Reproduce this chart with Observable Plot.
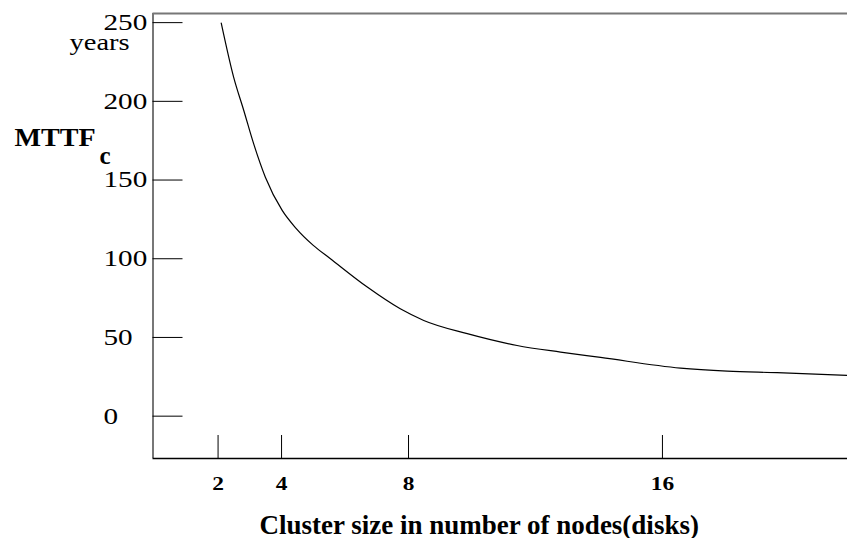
<!DOCTYPE html>
<html>
<head>
<meta charset="utf-8">
<script src="https://cdn.jsdelivr.net/npm/d3@7"></script>
<script src="https://cdn.jsdelivr.net/npm/@observablehq/plot@0.6"></script>
<style>
  html, body { margin: 0; padding: 0; background: #fff; }
  #chart svg { display: block; }
  #chart svg, #chart svg text { font-family: "Liberation Serif", "Times New Roman", serif !important; }
</style>
</head>
<body>
<div id="chart"></div>
<script>
// ---- data ----
const clusterSize = [2.10, 2.49, 2.81, 3.12, 3.49, 4.02, 4.45, 5.00, 5.54, 6.70, 7.74, 8.48, 9.85, 11.42, 12.79, 14.05, 16.57, 18.04, 19.61, 21.82];
const mttfYears   = [249.7, 215.4, 194.2, 173.1, 151.8, 130.7, 119.5, 108.5, 100.0, 82.0, 68.2, 60.8, 52.4, 44.9, 40.7, 37.3, 30.5, 28.6, 27.6, 25.9];
const xTicks = [2, 4, 8, 16];
const yTicks = [0, 50, 100, 150, 200, 250];
const xTitle = "Cluster size in number of nodes(disks)";
const yTitle = "MTTF";
const yTitleSub = "c";
const yUnit = "years";
const xDomain = [-0.05, 21.83];
const yDomain = [-26.9, 255.8];

const data = clusterSize.map((x, i) => ({x, y: mttfYears[i]}));

const FONT = "Liberation Serif";
const W = 847, H = 538;
const mL = 152.5, mR = 0, mT = 13, mB = 80;
const plotW = W - mL - mR, plotH = H - mT - mB;

const chart = Plot.plot({
  width: W,
  height: H,
  marginLeft: mL,
  marginRight: mR,
  marginTop: mT,
  marginBottom: mB,
  style: {fontFamily: FONT, background: "#fff", color: "#000"},
  x: {domain: xDomain, axis: null},
  y: {domain: yDomain, axis: null},
  marks: [
    // frame lines
    Plot.ruleX([xDomain[0]], {stroke: "#777", strokeWidth: 2}),
    Plot.ruleY([yDomain[1]], {stroke: "#777", strokeWidth: 2}),
    Plot.ruleY([yDomain[0]], {stroke: "#000", strokeWidth: 1.5}),
    // inward y ticks
    Plot.tickY(yTicks, {y: d => d, stroke: "#000", strokeWidth: 1, insetRight: plotW - 30}),
    // inward x ticks
    Plot.tickX(xTicks, {x: d => d, stroke: "#000", strokeWidth: 1, insetTop: plotH - 23}),
    // y tick labels
    Plot.text(yTicks, {y: d => d, text: d => String(d), frameAnchor: "left", textAnchor: "start", dx: -49.5, fontSize: 23, fontFamily: FONT, fill: "#000"}),
    // x tick labels
    Plot.text(xTicks, {x: d => d, text: d => String(d), frameAnchor: "bottom", lineAnchor: "bottom", dy: 31, fontSize: 18, fontWeight: "bold", fontFamily: FONT, fill: "#000"}),
    // titles
    Plot.text([xTitle], {text: d => d, frameAnchor: "bottom", lineAnchor: "bottom", dx: -21, dy: 75, fontSize: 27, fontWeight: "bold", fontFamily: FONT, fill: "#000"}),
    Plot.text([yUnit], {text: d => d, frameAnchor: "top-left", textAnchor: "start", lineAnchor: "bottom", dx: -83.5, dy: 36, fontSize: 23, fontFamily: FONT, fill: "#000"}),
    Plot.text([yTitle], {text: d => d, frameAnchor: "top-left", textAnchor: "start", lineAnchor: "bottom", dx: -138.5, dy: 132.7, fontSize: 26, fontWeight: "bold", fontFamily: FONT, fill: "#000"}),
    Plot.text([yTitleSub], {text: d => d, frameAnchor: "top-left", textAnchor: "start", lineAnchor: "bottom", dx: -53.5, dy: 150, fontSize: 25, fontWeight: "bold", fontFamily: FONT, fill: "#000"}),
    // curve
    Plot.line(data, {x: "x", y: "y", stroke: "#000", strokeWidth: 1.2, curve: "monotone-x"})
  ]
});

document.getElementById("chart").appendChild(chart);

// the reference's lettering is horizontally widened; stretch glyphs to match
const stretch = new Map();
yTicks.forEach(t => stretch.set(String(t), 1.27));
xTicks.forEach(t => stretch.set(String(t), 1.3));
stretch.set(yUnit, 1.24);
stretch.set(yTitle, 1.08);
chart.querySelectorAll("text").forEach(el => {
  const f = stretch.get(el.textContent);
  if (f) {
    const len = el.getComputedTextLength();
    el.setAttribute("textLength", (len * f).toFixed(1));
    el.setAttribute("lengthAdjust", "spacingAndGlyphs");
  }
});
</script>
</body>
</html>
